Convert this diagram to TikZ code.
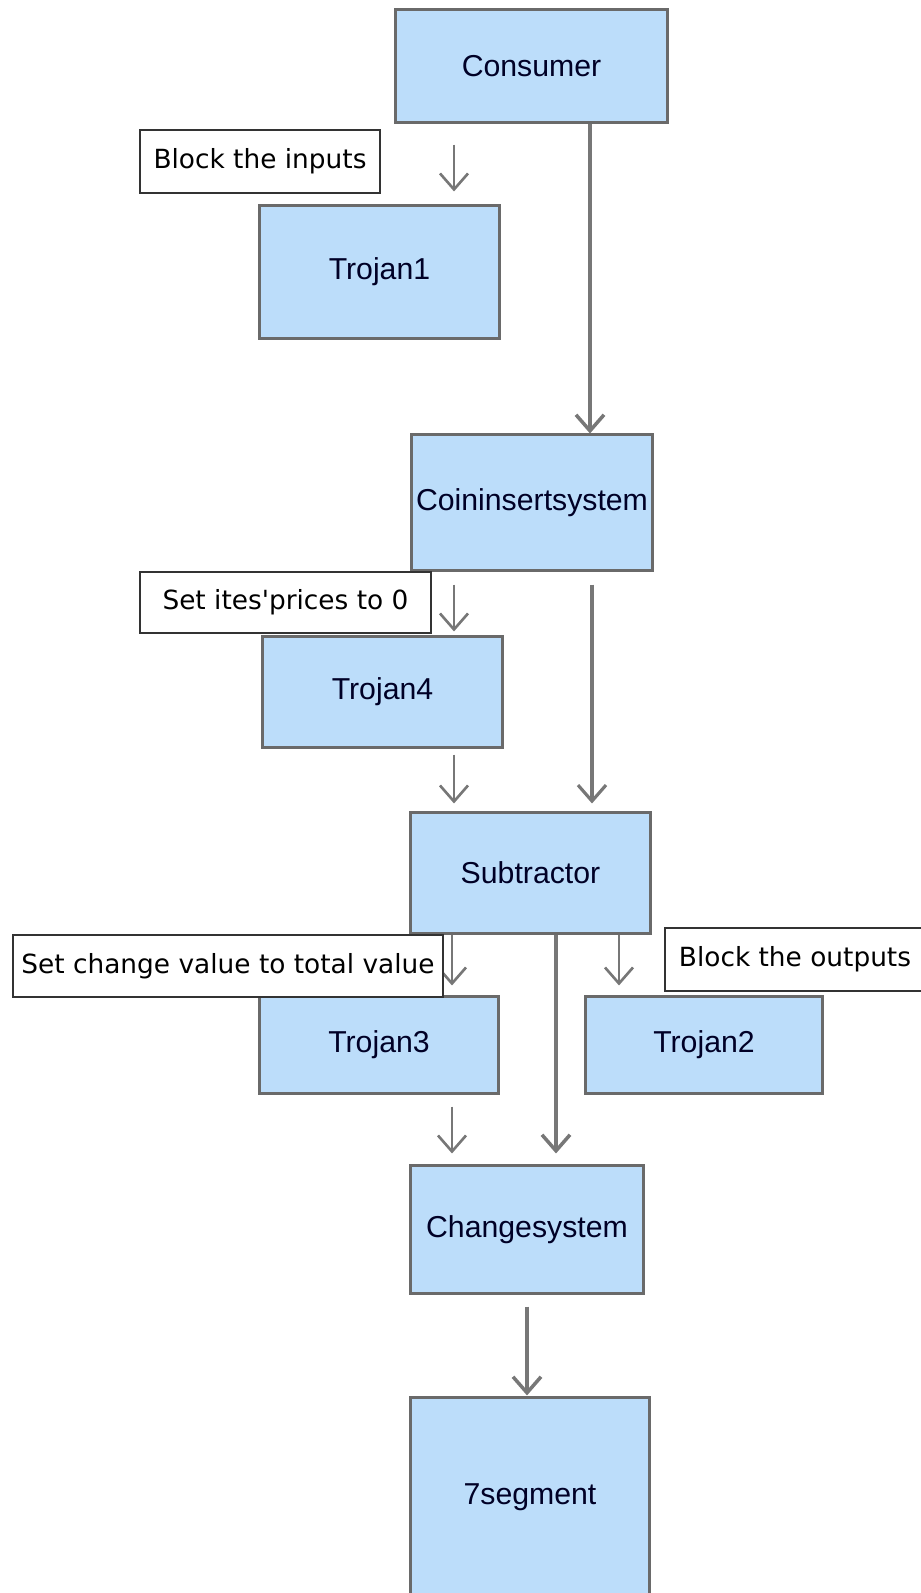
\documentclass[tikz,border=0pt]{standalone}
\usepackage{fontspec}
\setmainfont{Liberation Sans}
\newfontfamily\notefont{DejaVu Sans}
\usepackage{xcolor}
\usetikzlibrary{positioning, arrows.meta}
\definecolor{boxfill}{HTML}{BCDDFA}
\definecolor{boxline}{HTML}{6A6A6A}
\definecolor{wiregray}{HTML}{777777}
\tikzset{
	>={Straight Barb[length=0.16cm, width=0.28cm]},
	block/.style={draw=boxline, fill=boxfill, line width=0.85pt, inner sep=0pt,
		font=\fontsize{8.6}{10}\selectfont, text=black!85!blue},
	note/.style={draw=black!80, fill=white, line width=0.6pt, inner sep=0pt,
		font=\notefont\fontsize{7.5}{9}\selectfont},
	wire/.style={draw=wiregray, line width=0.75pt, every edge/.append style={->}}}

\begin{document}
\begin{tikzpicture}[x=0.01cm, y=-0.01cm]
		\useasboundingbox (0,0) rectangle (920,1593);
		
		%main column
		\node[block, minimum width=2.71cm, minimum height=1.12cm] (consumer) at (531.5,66) {Consumer};
		\node[block, minimum width=2.40cm, minimum height=1.35cm] (coin) at (532,502.5) {Coininsertsystem};
		\node[block, minimum width=2.39cm, minimum height=1.20cm] (sub) at (530.5,873) {Subtractor};
		\node[block, minimum width=2.32cm, minimum height=1.27cm] (change) at (527,1229.5) {Changesystem};
		\node[block, minimum width=2.38cm, minimum height=1.98cm] (seg) at (530,1497) {7segment};
		
		%trojans
		\node[block, minimum width=2.39cm, minimum height=1.32cm] (t1) at (379.5,272) {Trojan1};
		\node[block, minimum width=2.39cm, minimum height=1.10cm] (t4) at (382.5,692) {Trojan4};
		\node[block, minimum width=2.38cm, minimum height=0.96cm] (t3) at (379,1045) {Trojan3};
		\node[block, minimum width=2.36cm, minimum height=0.96cm] (t2) at (704,1045) {Trojan2};
		
		%wire columns
		\coordinate (xa) at (590,0);
		\coordinate (xb) at (454,0);
		\coordinate (xc) at (592,0);
		\coordinate (xd) at (452,0);
		\coordinate (xe) at (556,0);
		\coordinate (xf) at (619,0);
		\coordinate (xg) at (527,0);
		
		\draw[wire]
		(consumer.south -| xa) edge[line width=1pt] (coin.north -| xa)
		(consumer.south -| xb) edge[shorten <=0.21cm, shorten >=0.13cm] (t1.north -| xb)
		
		(coin.south -| xb) edge[shorten <=0.13cm, shorten >=0.04cm] (t4.north -| xb)
		(coin.south -| xc) edge[line width=0.9pt, shorten <=0.13cm, shorten >=0.08cm] (sub.north -| xc)
		(t4.south -| xb) edge[shorten <=0.06cm, shorten >=0.08cm] (sub.north -| xb)
		
		(sub.south -| xd) edge[shorten >=0.10cm] (t3.north -| xd)
		(sub.south -| xf) edge[shorten >=0.10cm] (t2.north -| xf)
		(sub.south -| xe) edge[line width=1pt, shorten >=0.11cm] (change.north -| xe)
		(t3.south -| xd) edge[shorten <=0.12cm, shorten >=0.11cm] (change.north -| xd)
		
		(change.south -| xg) edge[line width=1pt, shorten <=0.12cm, shorten >=0.01cm] (seg.north -| xg)
		;
		
		%notes
		\node[note, minimum width=2.40cm, minimum height=0.63cm] (n1) at (260,161.5) {Block the inputs};
		\node[note, minimum width=2.91cm, minimum height=0.61cm] (n4) at (285.5,602.5) {Set ites\textquotesingle prices to 0};
		\node[note, minimum width=4.30cm, minimum height=0.62cm] (n3) at (228,966) {Set change value to total value};
		\node[note, minimum width=2.60cm, minimum height=0.63cm] (n2) at (795,959.5) {Block the outputs};
	\end{tikzpicture}
\end{document}
